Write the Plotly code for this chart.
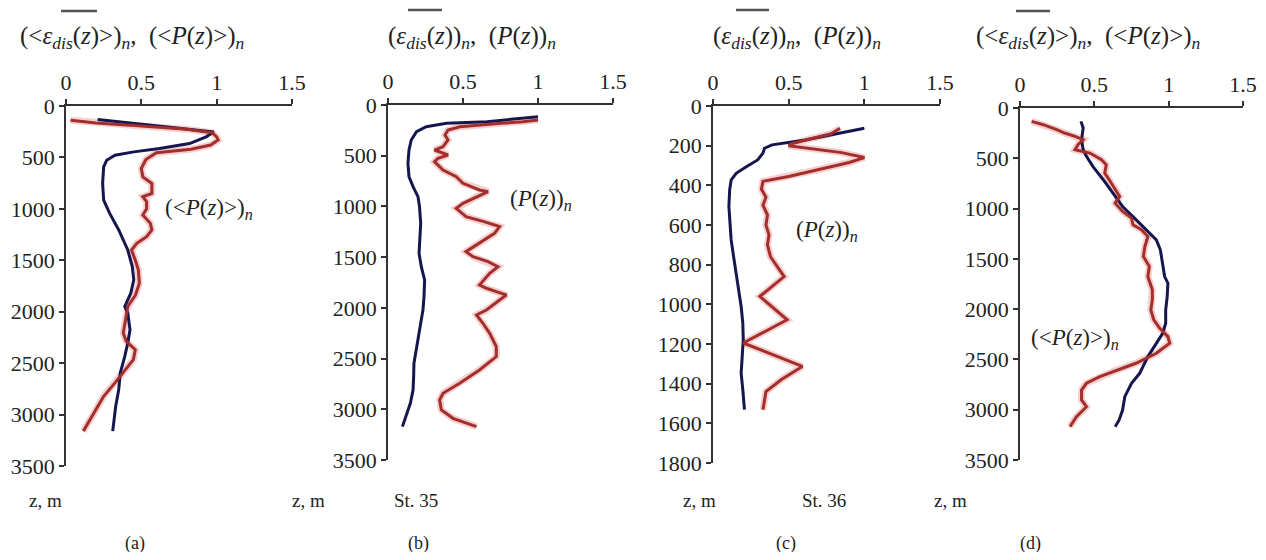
import plotly.graph_objects as go

# ---------------- data ----------------
# panel (a)
a_eps_x = [0.21, 0.40, 0.60, 0.80, 0.98, 0.93, 0.82, 0.62, 0.45, 0.325, 0.27, 0.25, 0.243, 0.25, 0.29, 0.35, 0.41, 0.44, 0.45, 0.43, 0.39, 0.41, 0.425, 0.41, 0.39, 0.36, 0.35, 0.33, 0.32, 0.31]
a_eps_z = [132, 160, 190, 220, 252, 300, 365, 414, 446, 478, 527, 591, 753, 915, 1044, 1205, 1400, 1561, 1690, 1820, 1949, 2013, 2175, 2304, 2434, 2595, 2757, 2918, 3080, 3161]
a_p_x = [0.03, 0.20, 0.50, 0.80, 0.97, 1.00, 1.01, 0.96, 0.83, 0.60, 0.53, 0.50, 0.51, 0.57, 0.57, 0.51, 0.535, 0.535, 0.51, 0.56, 0.57, 0.535, 0.47, 0.435, 0.46, 0.48, 0.487, 0.46, 0.41, 0.39, 0.38, 0.40, 0.46, 0.447, 0.38, 0.325, 0.25, 0.20, 0.15, 0.115]
a_p_z = [139, 165, 195, 225, 260, 300, 330, 380, 420, 455, 520, 608, 690, 753, 850, 882, 930, 1000, 1060, 1141, 1205, 1270, 1335, 1400, 1500, 1593, 1723, 1840, 1949, 2110, 2207, 2288, 2369, 2466, 2595, 2692, 2822, 2951, 3080, 3161]

# panel (b)
b_eps_x = [1.0, 0.66, 0.39, 0.255, 0.19, 0.155, 0.14, 0.133, 0.14, 0.167, 0.20, 0.21, 0.218, 0.21, 0.207, 0.222, 0.244, 0.24, 0.233, 0.218, 0.20, 0.19, 0.173, 0.171, 0.167, 0.149, 0.127, 0.096]
b_eps_z = [115, 164, 181, 214, 263, 345, 444, 575, 707, 805, 904, 1002, 1167, 1331, 1462, 1594, 1725, 1889, 2021, 2152, 2317, 2415, 2547, 2678, 2810, 2941, 3040, 3171]
b_p_x = [1.0, 0.90, 0.756, 0.48, 0.40, 0.38, 0.40, 0.367, 0.31, 0.367, 0.40, 0.333, 0.31, 0.367, 0.455, 0.50, 0.61, 0.667, 0.59, 0.50, 0.455, 0.52, 0.64, 0.744, 0.71, 0.61, 0.52, 0.567, 0.667, 0.733, 0.678, 0.61, 0.656, 0.722, 0.789, 0.744, 0.656, 0.59, 0.633, 0.678, 0.722, 0.722, 0.61, 0.478, 0.367, 0.344, 0.356, 0.433, 0.59]
b_p_z = [148, 165, 181, 214, 246, 296, 345, 411, 444, 476, 493, 526, 559, 641, 707, 772, 838, 854, 904, 969, 1019, 1101, 1150, 1199, 1265, 1364, 1446, 1495, 1544, 1594, 1659, 1774, 1807, 1840, 1873, 1922, 2021, 2070, 2152, 2251, 2382, 2481, 2612, 2744, 2842, 2908, 3007, 3089, 3171]

# panel (c)
c_eps_x = [1.0, 0.83, 0.61, 0.39, 0.34, 0.33, 0.295, 0.22, 0.153, 0.12, 0.11, 0.105, 0.11, 0.12, 0.136, 0.153, 0.17, 0.186, 0.197, 0.20, 0.193, 0.186, 0.197, 0.208]
c_eps_z = [112, 138, 171, 196, 213, 238, 272, 306, 339, 373, 423, 507, 591, 675, 759, 843, 927, 1011, 1095, 1179, 1263, 1347, 1431, 1531]
c_p_x = [0.84, 0.78, 0.62, 0.52, 0.50, 0.65, 0.85, 1.0, 0.90, 0.70, 0.50, 0.33, 0.32, 0.35, 0.33, 0.36, 0.35, 0.37, 0.36, 0.38, 0.47, 0.31, 0.49, 0.20, 0.35, 0.48, 0.59, 0.45, 0.35, 0.33]
c_p_z = [112, 140, 170, 190, 200, 215, 235, 260, 285, 320, 355, 380, 420, 460, 500, 550, 600, 650, 700, 760, 860, 960, 1078, 1195, 1240, 1280, 1313, 1380, 1440, 1531]

# panel (d)
d_eps_x = [0.41, 0.425, 0.414, 0.425, 0.447, 0.49, 0.56, 0.626, 0.69, 0.77, 0.85, 0.917, 0.944, 0.957, 0.973, 0.995, 0.99, 0.98, 0.98, 0.96, 0.917, 0.86, 0.805, 0.75, 0.705, 0.69, 0.667, 0.64]
d_eps_z = [133, 199, 315, 415, 481, 581, 713, 846, 979, 1095, 1211, 1311, 1410, 1543, 1676, 1742, 1875, 2007, 2140, 2240, 2339, 2472, 2638, 2737, 2870, 3003, 3102, 3169]
d_p_x = [0.078, 0.157, 0.246, 0.30, 0.37, 0.425, 0.39, 0.37, 0.47, 0.548, 0.58, 0.57, 0.60, 0.64, 0.67, 0.64, 0.69, 0.75, 0.76, 0.817, 0.86, 0.84, 0.83, 0.87, 0.86, 0.89, 0.89, 0.88, 0.90, 0.94, 0.995, 1.007, 0.917, 0.78, 0.65, 0.537, 0.447, 0.414, 0.414, 0.447, 0.38, 0.336]
d_p_z = [133, 166, 216, 249, 282, 315, 365, 415, 448, 514, 564, 647, 713, 813, 879, 946, 1029, 1095, 1161, 1211, 1278, 1377, 1477, 1576, 1676, 1808, 1908, 2007, 2107, 2190, 2273, 2339, 2439, 2538, 2605, 2671, 2737, 2804, 2903, 2970, 3069, 3169]

x_tickvals = [0, 0.5, 1, 1.5]
x_ticktext = ["0", "0.5", "1", "1.5"]
y_ticks_deep = [0, 500, 1000, 1500, 2000, 2500, 3000, 3500]
y_ticks_c = [0, 200, 400, 600, 800, 1000, 1200, 1400, 1600, 1800]

titles_avg = "(&lt;<i>ε</i><sub><i>dis</i></sub>(<i>z</i>)&gt;)<sub><i>n</i></sub>,  (&lt;<i>P</i>(<i>z</i>)&gt;)<sub><i>n</i></sub>"
titles_inst = "(<i>ε</i><sub><i>dis</i></sub>(<i>z</i>))<sub><i>n</i></sub>,  (<i>P</i>(<i>z</i>))<sub><i>n</i></sub>"
label_avg = "(&lt;<i>P</i>(<i>z</i>)&gt;)<sub><i>n</i></sub>"
label_inst = "(<i>P</i>(<i>z</i>))<sub><i>n</i></sub>"

# ---------------- layout helpers ----------------
# page has an 8px body margin, so the figure is 16px smaller than the window
OFF = 8
W, H = 1250, 544
FONT = "Liberation Serif"
BLUE = "#16164f"
RED = "#a32e2c"
HALO = "rgba(225,120,120,0.35)"

def px_x(p):
    return (p - OFF) / W

def px_y(p):
    return 1 - (p - OFF) / H

panels = [
    (66, 292, 106, 466, 3500, y_ticks_deep, a_eps_x, a_eps_z, a_p_x, a_p_z),
    (388, 613, 105, 460, 3500, y_ticks_deep, b_eps_x, b_eps_z, b_p_x, b_p_z),
    (713, 940, 106, 463, 1800, y_ticks_c, c_eps_x, c_eps_z, c_p_x, c_p_z),
    (1020, 1243, 108, 460, 3500, y_ticks_deep, d_eps_x, d_eps_z, d_p_x, d_p_z),
]

fig = go.Figure()
layout = dict(
    template="none",
    width=W, height=H,
    margin=dict(l=0, r=0, t=0, b=0, pad=0, autoexpand=False),
    paper_bgcolor="white", plot_bgcolor="white",
    showlegend=False,
    font=dict(family=FONT, color="#222", size=20),
)

for i, (x0, x1, yt, yb, ymax, yt_vals, ex, ez, px_, pz) in enumerate(panels):
    n = "" if i == 0 else str(i + 1)
    xa = "x" + n
    ya = "y" + n
    layout["xaxis" + n] = dict(
        domain=[px_x(x0), px_x(x1)], anchor=ya, side="top",
        range=[0, 1.5], tickvals=x_tickvals, ticktext=x_ticktext,
        showline=True, linecolor="#333", linewidth=1.5, mirror=False,
        ticks="outside", ticklen=5, tickcolor="#333", tickwidth=1.5,
        showgrid=False, zeroline=False, automargin=False,
        ticklabeloverflow="allow",
        tickfont=dict(family=FONT, size=22, color="#222"),
    )
    layout["yaxis" + n] = dict(
        domain=[px_y(yb), px_y(yt)], anchor=xa,
        range=[ymax, 0], tickvals=yt_vals,
        showline=True, linecolor="#333", linewidth=1.5,
        ticks="outside", ticklen=5, tickcolor="#333", tickwidth=1.5,
        showgrid=False, zeroline=False, automargin=False,
        ticklabeloverflow="allow",
        tickfont=dict(family=FONT, size=22, color="#222"),
    )
    fig.add_trace(go.Scatter(x=px_, y=pz, xaxis=xa, yaxis=ya, mode="lines",
                             line=dict(color=HALO, width=7), hoverinfo="skip"))
    fig.add_trace(go.Scatter(x=ex, y=ez, xaxis=xa, yaxis=ya, mode="lines",
                             line=dict(color=BLUE, width=3)))
    fig.add_trace(go.Scatter(x=px_, y=pz, xaxis=xa, yaxis=ya, mode="lines",
                             line=dict(color=RED, width=3)))

fig.update_layout(**layout)

annotations = []

def txt(text, xc, yc, size):
    annotations.append(dict(text=text, x=px_x(xc), y=px_y(yc), xref="paper", yref="paper",
                            showarrow=False, xanchor="center", yanchor="middle",
                            font=dict(family=FONT, size=size, color="#222")))

# titles
txt(titles_avg, 132, 37, 25)
txt(titles_inst, 472, 37, 25)
txt(titles_inst, 797, 37, 25)
txt(titles_avg, 1088, 37, 25)
# in-plot labels
txt(label_avg, 209, 209, 23)
txt(label_inst, 541, 200, 23)
txt(label_inst, 827, 231, 23)
txt(label_avg, 1075, 339, 23)
# bottom labels
for xc in [45, 308, 699, 950]:
    txt("z, m", xc, 500, 19)
txt("St. 35", 416, 500, 19)
txt("St. 36", 824, 500, 19)
for lab, xc in [("(a)", 135), ("(b)", 418), ("(c)", 786), ("(d)", 1030)]:
    txt(lab, xc, 543, 18)

shapes = []
for xa_, xb_, yy in [(61, 97, 11), (408, 442, 10), (736, 769, 10), (1016, 1050, 11)]:
    shapes.append(dict(type="line", xref="paper", yref="paper",
                       x0=px_x(xa_), x1=px_x(xb_), y0=px_y(yy), y1=px_y(yy),
                       line=dict(color="#555", width=2.5)))

fig.update_layout(annotations=annotations, shapes=shapes)
fig.write_html("out.html")
